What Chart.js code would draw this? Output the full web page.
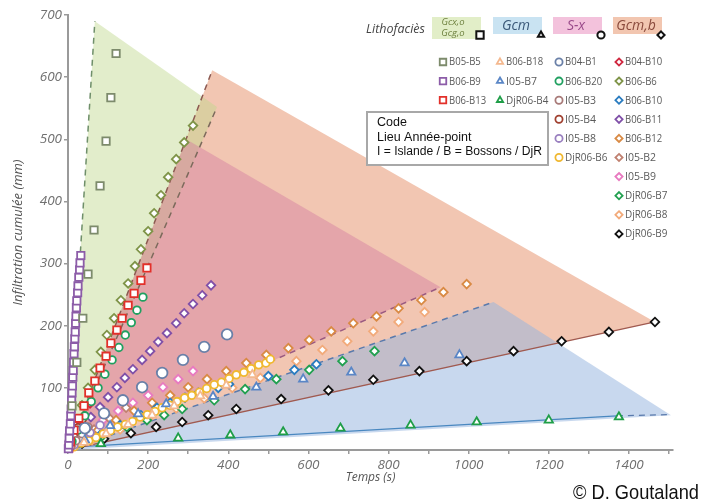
<!DOCTYPE html>
<html>
<head>
<meta charset="utf-8">
<script src="https://cdn.jsdelivr.net/npm/chart.js@4/dist/chart.umd.min.js"></script>
<style>
  html, body { margin: 0; padding: 0; background: #fff; }
  #wrap { width: 702px; height: 503px; }
</style>
</head>
<body>
<div id="wrap"><canvas id="myChart" width="702" height="503"></canvas></div>
<script>
// ---- data (Temps s, Infiltration mm) ----
const b05b5 = [[10,71],[22,141],[37,212],[50,283],[65,354],[80,425],[95,497],[107,567],[120,638]];
const b06b9 = [[1,2],[2,8],[3,19],[4,31],[6,42],[7,55],[8,66],[9,80],[10,92],[11,103],[12,117],[13,128],[14,141],[15,155],[16,166],[17,179],[18,190],[19,204],[20,215],[21,229],[22,240],[24,253],[25,264],[27,278],[29,290],[30,301],[32,313]];
const b06b13 = [[2,3],[6,13],[15,32],[27,51],[40,71],[52,92],[67,111],[80,132],[95,151],[107,172],[122,193],[135,212],[150,233],[165,252],[182,273],[197,293]];
const b06b18 = [[40,12],[95,26],[150,41],[210,56],[265,71],[330,87],[395,104],[460,121]];
const i05b7 = [[42,16],[105,39],[175,58],[245,74],[362,86],[470,101],[587,114],[707,125],[840,140],[977,153]];
const djr06b4 = [[82,10],[275,19],[405,24],[537,29],[680,35],[855,40],[1020,45],[1200,48],[1375,53]];
const b04b1 = [[42,35],[90,59],[137,80],[185,101],[235,124],[287,145],[340,166],[397,186]];
const b06b20 = [[10,14],[25,32],[42,55],[58,78],[75,100],[92,122],[110,145],[127,165],[143,185],[158,205],[172,225],[187,246]];
const i05b3 = [[8,6],[20,15],[35,26],[50,37]];
const i05b4 = [[5,10],[14,22],[25,36],[36,50]];
const i05b8 = [[15,8],[35,18],[55,28],[80,40]];
const djr06b6 = [[15,5],[33,11],[52,15],[70,20],[88,26],[106,31],[124,37],[143,41],[161,46],[180,53],[198,57],[217,62],[235,68],[254,72],[272,78],[291,84],[309,88],[328,93],[346,99],[365,105],[383,109],[402,115],[420,121],[439,125],[457,131],[476,137],[494,140],[505,146]];
const b04b10 = [[6,8],[16,22],[28,38],[40,55],[55,75]];
const b06b6 = [[5,16],[17,43],[35,72],[50,100],[67,129],[82,158],[97,185],[115,212],[132,241],[150,268],[167,296],[182,323],[200,352],[215,381],[232,410],[250,439],[270,468],[290,495],[312,522]];
const b06b10 = [[30,11],[80,24],[130,40],[182,56],[222,68],[255,76],[292,84],[325,92],[375,100],[402,106],[500,119],[565,129],[620,138]];
const b06b11 = [[17,19],[37,35],[57,53],[80,69],[100,85],[122,101],[142,116],[162,130],[185,145],[205,159],[225,174],[247,188],[270,204],[290,220],[312,235],[335,249],[357,265]];
const b06b12 = [[30,16],[75,32],[120,48],[165,63],[210,76],[255,88],[300,101],[347,114],[395,127],[445,140],[495,153],[550,164],[602,177],[657,191],[712,204],[770,215],[825,228],[882,241],[937,254],[995,267]];
const i05b2 = [[25,14],[65,33],[105,50],[145,68]];
const i05b9 = [[17,16],[50,32],[87,48],[125,63],[162,76],[200,88],[237,101],[275,114],[312,127]];
const djr06b7 = [[80,19],[147,37],[197,48],[240,56],[285,66],[365,80],[442,98],[520,114],[602,129],[685,143],[765,159]];
const djr06b8 = [[60,16],[130,33],[200,50],[270,67],[340,83],[410,100],[480,116],[570,143],[635,161],[697,175],[762,191],[825,206],[890,222]];
const djr06b9 = [[35,10],[90,18],[157,27],[220,37],[285,45],[350,56],[420,66],[532,82],[650,96],[762,113],[877,127],[995,143],[1112,159],[1232,175],[1350,190],[1465,206]];

// lithofacies zones (polygon corners) and their bounding lines
const zoneOrange = [[0,0],[360,611],[1465,206]];
const zoneGreen = [[0,0],[67,690],[372,552]];
const zonePink = [[0,0],[295,500],[930,262]];
const zoneBlue = [[0,0],[1062,238],[1505,56]];
const lineGreenLeft = [[0,0],[67,690]];
const lineGreenRight = [[0,0],[372,552]];
const lineOrangeLeft = [[0,0],[360,611]];
const linePink = [[0,0],[930,262]];
const lineBlueTop = [[0,0],[1062,238]];
const lineOrangeLow = [[0,0],[1465,206]];
const lineBlueLow = [[20,5],[1370,55]];
const lineBlueLowExt = [[1370,55],[1505,57]];

// axis ticks
const xTicks = [0,100,200,300,400,500,600,700,800,900,1000,1100,1200,1300,1400,1500];
const xLabels = ['0','','200','','400','','600','','800','','1000','','1200','','1400',''];

// legend texts
const legendCol1 = ['B05-B5', 'B06-B9', 'B06-B13'];
const legendCol2 = ['B06-B18', 'I05-B7', 'DjR06-B4'];
const legendCol3 = ['B04-B1', 'B06-B20', 'I05-B3', 'I05-B4', 'I05-B8', 'DjR06-B6'];
const legendCol4 = ['B04-B10', 'B06-B6', 'B06-B10', 'B06-B11', 'B06-B12', 'I05-B2', 'I05-B9', 'DjR06-B7', 'DjR06-B8', 'DjR06-B9'];
const faciesLabels = ['Gcx,o', 'Gcm', 'S-x', 'Gcm,b'];
const codeLines = ['Code', 'Lieu Année-point', 'I = Islande / B = Bossons / DjR'];

const seriesData = {
  'B05-B5': b05b5, 'B06-B9': b06b9, 'B06-B13': b06b13,
  'B06-B18': b06b18, 'I05-B7': i05b7, 'DjR06-B4': djr06b4,
  'B04-B1': b04b1, 'B06-B20': b06b20, 'I05-B3': i05b3, 'I05-B4': i05b4, 'I05-B8': i05b8, 'DjR06-B6': djr06b6,
  'B04-B10': b04b10, 'B06-B6': b06b6, 'B06-B10': b06b10, 'B06-B11': b06b11, 'B06-B12': b06b12,
  'I05-B2': i05b2, 'I05-B9': i05b9, 'DjR06-B7': djr06b7, 'DjR06-B8': djr06b8, 'DjR06-B9': djr06b9
};

// styles
const colors = {
  'B05-B5': '#7d8b6c', 'B06-B9': '#8c5ca8', 'B06-B13': '#e2302a',
  'B06-B18': '#f4b88e', 'I05-B7': '#5a86c6', 'DjR06-B4': '#1f9e48',
  'B04-B1': '#6a80a8', 'B06-B20': '#20a060', 'I05-B3': '#a87a78', 'I05-B4': '#a04030', 'I05-B8': '#9a80c0', 'DjR06-B6': '#f0b830',
  'B04-B10': '#d02840', 'B06-B6': '#7f9448', 'B06-B10': '#2a7cc0', 'B06-B11': '#8050a8', 'B06-B12': '#d98a44',
  'I05-B2': '#c08070', 'I05-B9': '#e87ac0', 'DjR06-B7': '#22a050', 'DjR06-B8': '#f2aa7a', 'DjR06-B9': '#111111'
};
const colShape = ['rect', 'triangle', 'circle', 'rectRot'];
const shapeRadius = { rect: 5.2, triangle: 4.8, circle: 3.8, rectRot: 4.3 };

const datasets = [];
[legendCol1, legendCol2, legendCol3, legendCol4].forEach((col, ci) => {
  col.forEach(name => {
    const big = name === 'B04-B1';
    datasets.push({
      label: name,
      data: seriesData[name].map(p => ({ x: p[0], y: p[1] })),
      pointStyle: colShape[ci],
      pointRadius: big ? 5.3 : shapeRadius[colShape[ci]],
      pointBorderWidth: 1.8,
      pointBorderColor: colors[name],
      pointBackgroundColor: '#ffffff',
      showLine: false,
      clip: false,
      order: 1
    });
  });
});

const edge = (pts, color, dash, width) => ({
  label: '',
  data: pts.map(p => ({ x: p[0], y: p[1] })),
  showLine: true, pointRadius: 0, borderColor: color, borderWidth: width || 1.5,
  borderDash: dash, fill: false, order: 5
});
datasets.push(edge(lineGreenLeft, '#6f8f6a', [6, 5]));
datasets.push(edge(lineGreenRight, '#7c6a5c', [6, 5]));
datasets.push(edge(lineOrangeLeft, '#8c5a52', [6, 5]));
datasets.push(edge(linePink, '#9a5a80', [6, 5]));
datasets.push(edge(lineBlueTop, '#5a7aac', [6, 5]));
datasets.push(edge(lineOrangeLow, '#a05a50', [], 1.3));
datasets.push(edge(lineBlueLow, '#4a88c0', [], 1.3));
datasets.push(edge(lineBlueLowExt, '#5a7aac', [6, 5], 1.3));

const zones = [
  { pts: zoneOrange, color: 'rgb(242,198,178)' },
  { pts: zoneGreen, color: 'rgba(190,215,140,0.45)' },
  { pts: zonePink, color: 'rgba(210,120,160,0.42)' },
  { pts: zoneBlue, color: 'rgba(150,180,222,0.52)' }
];

function drawMarker(ctx, style, x, y, r) {
  ctx.beginPath();
  if (style === 'rect') {
    const s = r * Math.SQRT1_2;
    ctx.rect(x - s, y - s, 2 * s, 2 * s);
  } else if (style === 'triangle') {
    ctx.moveTo(x, y - r);
    ctx.lineTo(x + r * 0.866, y + r * 0.5);
    ctx.lineTo(x - r * 0.866, y + r * 0.5);
    ctx.closePath();
  } else if (style === 'circle') {
    ctx.arc(x, y, r, 0, Math.PI * 2);
  } else {
    ctx.moveTo(x, y - r); ctx.lineTo(x + r, y); ctx.lineTo(x, y + r); ctx.lineTo(x - r, y);
    ctx.closePath();
  }
  ctx.fill();
  ctx.stroke();
}

const zonePlugin = {
  id: 'zones',
  beforeDatasetsDraw(chart) {
    const { ctx, chartArea: a, scales: { x, y } } = chart;
    ctx.save();
    ctx.beginPath();
    ctx.rect(a.left, a.top, a.right - a.left, a.bottom - a.top);
    ctx.clip();
    zones.forEach(z => {
      ctx.fillStyle = z.color;
      ctx.beginPath();
      z.pts.forEach((p, i) => {
        const px = x.getPixelForValue(p[0]), py = y.getPixelForValue(p[1]);
        if (i) ctx.lineTo(px, py); else ctx.moveTo(px, py);
      });
      ctx.closePath();
      ctx.fill();
    });
    ctx.restore();
  }
};

const legendPlugin = {
  id: 'customLegend',
  afterDraw(chart) {
    const { ctx } = chart;
    ctx.save();
    // Lithofacies header
    ctx.fillStyle = '#444';
    ctx.font = 'italic 12.5px "Open Sans", sans-serif';
    ctx.textBaseline = 'middle';
    ctx.textAlign = 'left';
    ctx.fillText('Lithofaciès', 366, 29);

    const boxes = [
      { x: 432, w: 49, h: 22, fill: '#e2eec8', text: '#6f8240' },
      { x: 493, w: 49, h: 17, fill: '#c9e3f2', text: '#3a5878' },
      { x: 553, w: 49, h: 17, fill: '#f3c2dc', text: '#9a4a8a' },
      { x: 613, w: 49, h: 17, fill: '#f2c6b0', text: '#8a4a3c' }
    ];
    boxes.forEach((b, i) => {
      ctx.fillStyle = b.fill;
      ctx.fillRect(b.x, 17, b.w, b.h);
      ctx.fillStyle = b.text;
      ctx.textAlign = 'center';
      if (i === 0) {
        ctx.font = 'italic 9.5px "Open Sans", sans-serif';
        ctx.fillText(faciesLabels[0], b.x + 21, 22);
        ctx.fillText('Gcg,o', b.x + 21, 33);
      } else {
        ctx.font = 'italic 14px "Open Sans", sans-serif';
        ctx.fillText(faciesLabels[i], b.x + 23, 26);
      }
      ctx.strokeStyle = '#111';
      ctx.fillStyle = '#fff';
      ctx.lineWidth = 2;
      drawMarker(ctx, colShape[i], b.x + 48, 35, colShape[i] === 'rect' ? 5.2 : 3.6);
    });

    // series legend
    const colX = [443, 500, 559, 619];
    [legendCol1, legendCol2, legendCol3, legendCol4].forEach((col, ci) => {
      col.forEach((name, ri) => {
        const yy = 62 + ri * 19.1;
        ctx.strokeStyle = colors[name];
        ctx.fillStyle = '#fff';
        ctx.lineWidth = 1.8;
        drawMarker(ctx, colShape[ci], colX[ci], yy, colShape[ci] === 'rect' ? 4.6 : 3.6);
        ctx.fillStyle = '#5a5a5a';
        ctx.font = '10.5px "Open Sans", sans-serif';
        ctx.textAlign = 'left';
        ctx.fillText(name, colX[ci] + 6, yy + 0.5, name.length * 5.3);
      });
    });

    // code box
    ctx.fillStyle = '#fff';
    ctx.fillRect(367, 112, 181, 53);
    ctx.strokeStyle = '#a8a8a8';
    ctx.lineWidth = 2;
    ctx.strokeRect(367, 112, 181, 53);
    ctx.fillStyle = '#111';
    ctx.font = '12.5px "Liberation Sans", Arial, sans-serif';
    ctx.textAlign = 'left';
    codeLines.forEach((t, i) => ctx.fillText(t, 377, 123 + i * 14.5, 165));

    // copyright
    ctx.font = '21px "Liberation Sans", Arial, sans-serif';
    ctx.fillStyle = '#111';
    ctx.textBaseline = 'alphabetic';
    ctx.fillText('© D. Goutaland', 573, 499, 126);
    ctx.restore();
  }
};

const tickFont = { family: '"Open Sans", sans-serif', size: 13.5, style: 'italic' };

new Chart(document.getElementById('myChart'), {
  type: 'scatter',
  data: { datasets },
  options: {
    responsive: false,
    animation: false,
    devicePixelRatio: 1,
    events: [],
    layout: { padding: { left: 0, right: 29, top: 15, bottom: 0 } },
    plugins: { legend: { display: false }, tooltip: { enabled: false } },
    scales: {
      x: {
        type: 'linear', min: 0, max: 1510,
        afterFit: s => { s.height = 53; },
        afterBuildTicks: s => { s.ticks = xTicks.map(v => ({ value: v })); },
        grid: { drawOnChartArea: false, drawTicks: true, tickLength: 4, color: '#9a9a9a', lineWidth: 1.5 },
        border: { color: '#9a9a9a', width: 2 },
        ticks: {
          autoSkip: false, maxRotation: 0, minRotation: 0,
          color: '#707070', font: tickFont, padding: 3,
          callback: (v, i) => xLabels[i]
        },
        title: {
          display: true, text: 'Temps (s)', color: '#555',
          font: { family: '"Open Sans", sans-serif', size: 12, style: 'italic' },
          padding: { top: 0, bottom: 18 }
        }
      },
      y: {
        type: 'linear', min: 0, max: 700,
        afterFit: s => { s.width = 68; },
        grid: { drawOnChartArea: false, drawTicks: true, tickLength: 4, color: '#9a9a9a', lineWidth: 1.5 },
        border: { color: '#9a9a9a', width: 2 },
        ticks: {
          stepSize: 100, color: '#707070', font: tickFont, padding: 2,
          callback: v => (v === 0 ? '' : v)
        },
        title: {
          display: true, text: 'Infiltration cumulée (mm)', color: '#555',
          font: { family: '"Open Sans", sans-serif', size: 13, style: 'italic' },
          padding: { top: 10, bottom: 0 }
        }
      }
    }
  },
  plugins: [zonePlugin, legendPlugin]
});
</script>
</body>
</html>
